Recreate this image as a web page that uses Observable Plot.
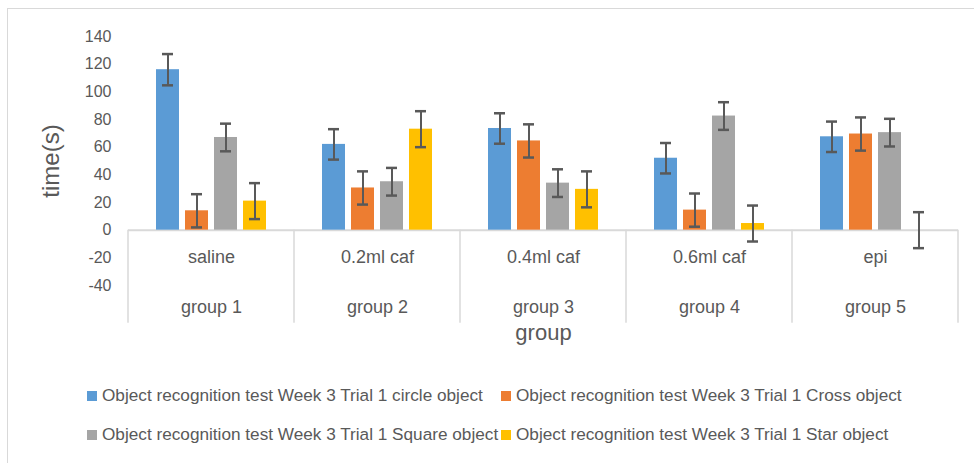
<!DOCTYPE html>
<html>
<head>
<meta charset="utf-8">
<script src="https://cdn.jsdelivr.net/npm/d3@7"></script>
<script src="https://cdn.jsdelivr.net/npm/@observablehq/plot@0.6"></script>
<style>
  html, body { margin: 0; padding: 0; background: #fff; }
  #wrap { position: relative; width: 974px; height: 463px; overflow: hidden; font-family: 'Liberation Sans', Arial, sans-serif; }
  #frame { position: absolute; left: 7px; top: 8px; right: -2px; bottom: -2px; border-left: 1.5px solid #d9d9d9; border-top: 1.5px solid #d9d9d9; }
  #chart { position: absolute; left: 0; top: 0; }
  #legend { position: absolute; left: 87px; top: 386px; display: grid; grid-template-columns: 414px auto; row-gap: 20px; font-size: 17.2px; line-height: 19px; color: #595959; }
  .item { display: flex; align-items: center; white-space: nowrap; }
  .sw { width: 10px; height: 10px; margin-right: 5px; display: inline-block; }
</style>
</head>
<body>
<div id="wrap">
  <div id="frame"></div>
  <div id="chart"></div>
  <div id="legend"></div>
</div>
<script>
const groups = ["group 1", "group 2", "group 3", "group 4", "group 5"];
const treatments = ["saline", "0.2ml caf", "0.4ml caf", "0.6ml caf", "epi"];
const series = [
  "Object recognition test Week 3 Trial 1 circle object",
  "Object recognition test Week 3 Trial 1 Cross object",
  "Object recognition test Week 3 Trial 1 Square object",
  "Object recognition test Week 3 Trial 1 Star object"
];
const colors = ["#5B9BD5", "#ED7D31", "#A5A5A5", "#FFC000"];
const yTicks = [-40, -20, 0, 20, 40, 60, 80, 100, 120, 140];

const circle = [116, 62, 73.5, 52, 67.5];
const circleErr = [11.3, 11, 11, 11, 11];
const cross = [14, 30.5, 64.5, 14.5, 69.5];
const crossErr = [12, 12, 12, 12, 12];
const square = [67, 35, 34, 82.5, 70.5];
const squareErr = [10, 10, 10, 10, 10];
const star = [21, 73, 29.5, 4.8, 0];
const starErr = [13, 13, 13, 13, 13];

const values = [circle, cross, square, star];
const errs = [circleErr, crossErr, squareErr, starErr];

const data = groups.flatMap((g, i) => series.map((s, j) => ({
  group: g, series: s, value: values[j][i], err: errs[j][i]
})));
const groupRows = groups.map((g, i) => ({group: g, treatment: treatments[i]}));

const chart = Plot.plot({
  width: 974,
  height: 345,
  marginLeft: 127,
  marginRight: 16,
  marginTop: 36,
  marginBottom: 60,
  style: {fontFamily: "'Liberation Sans', Arial, sans-serif", fontSize: "16px", color: "#595959", background: "transparent", overflow: "visible"},
  fx: {domain: groups, padding: 0, axis: "bottom", label: "group", labelAnchor: "center", tickSize: 0, tickPadding: 15, labelOffset: 54},
  x: {domain: series, axis: null, paddingInner: 0.2, paddingOuter: 0.87},
  y: {domain: [-40, 140], ticks: yTicks, tickFormat: d => String(d), tickSize: 0, tickPadding: 17, label: "time(s)", labelAnchor: "center", labelOffset: 87, labelArrow: "none"},
  color: {domain: series, range: colors},
  marks: [
    Plot.ruleY([0], {stroke: "#d9d9d9", strokeWidth: 2}),
    Plot.barY(data, {fx: "group", x: "series", y: "value", fill: "series"}),
    Plot.ruleX(data, {fx: "group", x: "series", y1: d => d.value - d.err, y2: d => d.value + d.err, stroke: "#595959", strokeWidth: 2}),
    Plot.tickY(data, {fx: "group", x: "series", y: d => d.value + d.err, stroke: "#595959", strokeWidth: 2.5, insetLeft: 6, insetRight: 6}),
    Plot.tickY(data, {fx: "group", x: "series", y: d => d.value - d.err, stroke: "#595959", strokeWidth: 2.5, insetLeft: 6, insetRight: 6}),
    Plot.text(groupRows, {fx: "group", text: "treatment", frameAnchor: "bottom", dy: -23, fontSize: 18, fill: "#595959"})
  ]
});

document.getElementById("chart").appendChild(chart);

const svg = d3.select(chart);
const fx = chart.scale("fx");
const ys = chart.scale("y");
const y0 = ys.apply(0);
const bounds = groups.map(g => fx.apply(g)).concat([fx.apply(groups[groups.length - 1]) + fx.bandwidth]);
svg.append("g").attr("aria-label", "separators")
  .selectAll("line").data(bounds).join("line")
  .attr("x1", d => d).attr("x2", d => d)
  .attr("y1", y0).attr("y2", y0 + 93)
  .attr("stroke", "#d9d9d9").attr("stroke-width", 1.5);

// Font sizes of axis labels
svg.selectAll('[aria-label="y-axis label"]').attr("font-size", 24).selectAll("text").attr("font-size", 24);
svg.selectAll('[aria-label="fx-axis label"]').attr("font-size", 22).selectAll("text").attr("font-size", 22);
svg.selectAll('[aria-label="fx-axis tick label"]').attr("font-size", 18).selectAll("text").attr("font-size", 18);

// Legend
const legend = d3.select("#legend");
series.forEach((s, i) => {
  const it = legend.append("div").attr("class", "item");
  it.append("span").attr("class", "sw").style("background", colors[i]);
  it.append("span").text(s);
});
</script>
</body>
</html>
